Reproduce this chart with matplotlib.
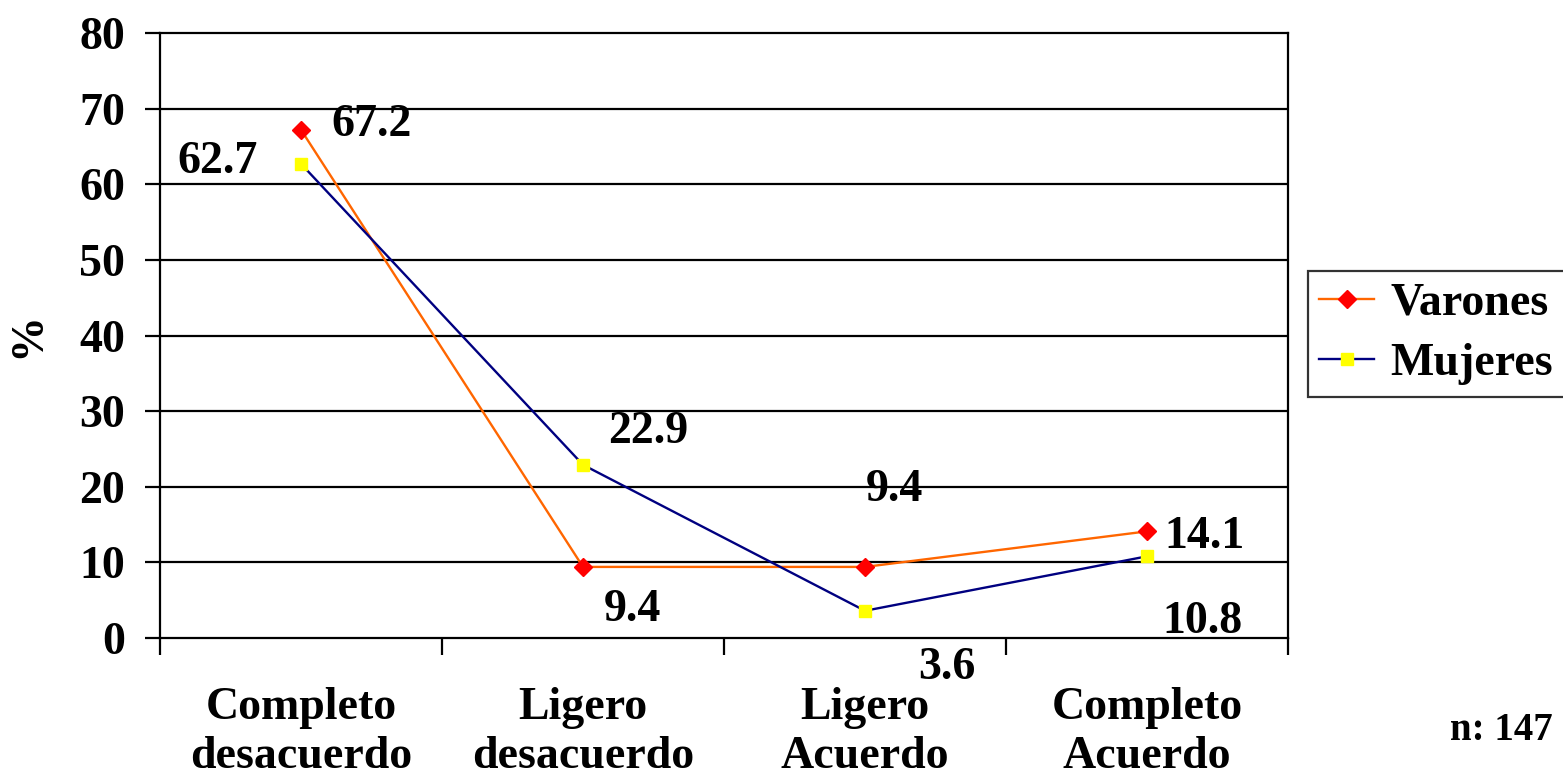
import matplotlib
matplotlib.use("Agg")
import matplotlib.pyplot as plt

# Respuestas por sexo (%)
categorias = ["Completo\ndesacuerdo", "Ligero\ndesacuerdo", "Ligero\nAcuerdo", "Completo\nAcuerdo"]
varones = [67.2, 9.4, 9.4, 14.1]
mujeres = [62.7, 22.9, 3.6, 10.8]

# desplazamiento (px) de cada etiqueta respecto a su punto
desp_varones = [(71, 5), (49, -43), (29, 77), (57, -6)]
desp_mujeres = [(-83, 2), (65, 33), (82, -57), (55, -66)]

plt.rcParams["font.family"] = ["Liberation Serif", "DejaVu Serif"]
plt.rcParams["font.weight"] = "bold"
fs = 33

fig = plt.figure(figsize=(15.63, 7.81), dpi=100)
ax = fig.add_axes([160 / 1563, 1 - 638 / 781, 1128 / 1563, 605 / 781])

x = list(range(1, len(categorias) + 1))

for y in range(10, 80, 10):
    ax.axhline(y, color="black", lw=1.6, zorder=1)

ax.plot(x, varones, color="#FF6600", lw=1.7, marker="D", markersize=9.5,
        markerfacecolor="#FF0000", markeredgecolor="#FF0000", label="Varones", zorder=3)
ax.plot(x, mujeres, color="#000080", lw=1.7, marker="s", markersize=8.5,
        markerfacecolor="#FFFF00", markeredgecolor="#FFFF00", label="Mujeres", zorder=3)

for xi, v, d in zip(x, varones, desp_varones):
    ax.annotate(f"{v:.1f}", (xi, v), xytext=d, textcoords="offset pixels",
                ha="center", va="center", fontsize=fs, fontweight="bold",
                annotation_clip=False)
for xi, v, d in zip(x, mujeres, desp_mujeres):
    ax.annotate(f"{v:.1f}", (xi, v), xytext=d, textcoords="offset pixels",
                ha="center", va="center", fontsize=fs, fontweight="bold",
                annotation_clip=False)

ax.set_xlim(0.5, len(categorias) + 0.5)
ax.set_ylim(0, 80)
ax.set_yticks(range(0, 81, 10))
ax.tick_params(axis="y", direction="out", length=11, width=1.6, pad=14, labelsize=fs)

# separadores entre categorías y etiquetas centradas
ax.set_xticks([i + 0.5 for i in range(len(categorias) + 1)])
ax.set_xticklabels([])
ax.set_xticks(x, minor=True)
ax.set_xticklabels(categorias, minor=True, fontsize=fs, fontweight="bold", linespacing=1.22)
ax.tick_params(axis="x", which="major", direction="out", length=12, width=1.6)
ax.tick_params(axis="x", which="minor", length=0, pad=35)

for s in ax.spines.values():
    s.set_linewidth(1.6)
    s.set_color("black")

ax.set_ylabel("%", fontsize=fs, fontweight="bold", labelpad=22)

leg = fig.legend(loc="upper left", bbox_to_anchor=(1308 / 1563, 1 - 271 / 781),
                 fontsize=fs, frameon=True, fancybox=False, edgecolor="black",
                 handlelength=1.2, handletextpad=0.35, borderpad=0.25,
                 labelspacing=0.41, borderaxespad=0)
leg.get_frame().set_linewidth(1.6)

fig.text(1553 / 1563, 1 - 730 / 781, "n: 147", ha="right", va="center",
         fontsize=28, fontweight="bold")

fig.savefig("out.png", dpi=100)
